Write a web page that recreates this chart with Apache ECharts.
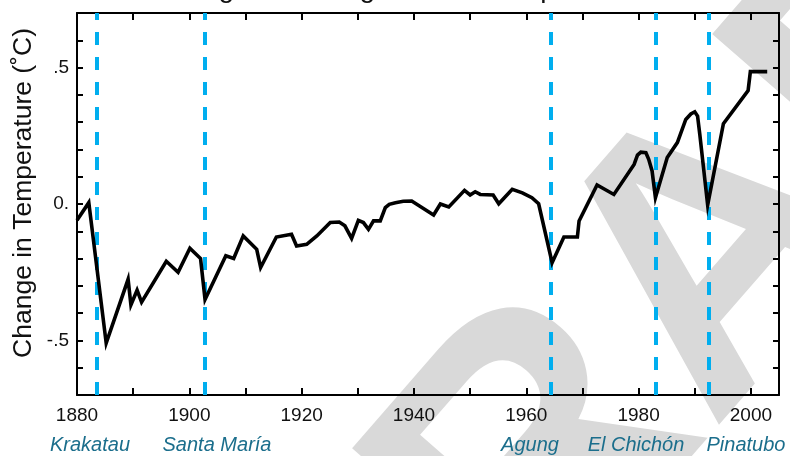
<!DOCTYPE html>
<html>
<head>
<meta charset="utf-8">
<script src="https://cdn.jsdelivr.net/npm/echarts@6/dist/echarts.min.js"></script>
<style>html,body{margin:0;padding:0;background:#fff;}#c{width:790px;height:456px;}</style>
</head>
<body>
<div id="c"></div>
<script>
const years = [1880, 1882.1, 1885.2, 1889.1, 1889.6, 1890.7, 1891.5, 1895.9, 1898, 1900.1, 1902, 1902.8, 1906.5, 1907.9, 1909.6, 1912, 1912.7, 1915.5, 1918.2, 1919.1, 1920.9, 1922.7, 1925.1, 1926.7, 1927.7, 1928.9, 1930.1, 1931, 1931.9, 1932.8, 1934, 1934.9, 1935.6, 1936.7, 1938.1, 1939.6, 1943.5, 1944.7, 1946.2, 1949, 1950, 1950.9, 1951.8, 1954.1, 1955.1, 1957.5, 1959.3, 1961, 1962.2, 1964.6, 1966.7, 1969.1, 1969.4, 1972.6, 1975.6, 1979.2, 1979.8, 1980.4, 1981.3, 1981.8, 1982.4, 1983, 1985.1, 1986.9, 1988.4, 1989.3, 1990, 1990.5, 1990.9, 1992.3, 1995.1, 1999.5, 1999.9, 2002.9];
const temps = [-0.06, 0.005, -0.51, -0.276, -0.37, -0.316, -0.36, -0.21, -0.25, -0.162, -0.2, -0.35, -0.19, -0.2, -0.117, -0.166, -0.233, -0.121, -0.111, -0.154, -0.148, -0.117, -0.068, -0.066, -0.08, -0.126, -0.06, -0.068, -0.093, -0.062, -0.062, -0.013, -0.001, 0.005, 0.01, 0.011, -0.04, 0, -0.011, 0.05, 0.033, 0.045, 0.035, 0.033, 0.001, 0.054, 0.041, 0.023, 0.001, -0.215, -0.121, -0.121, -0.062, 0.07, 0.035, 0.145, 0.179, 0.19, 0.188, 0.164, 0.121, 0.023, 0.17, 0.225, 0.31, 0.33, 0.338, 0.322, 0.255, -0.004, 0.294, 0.416, 0.485, 0.485];
const volcanoNames = ['Krakatau', 'Santa María', 'Agung', 'El Chichón', 'Pinatubo'];
const volcanoYears = [1883.5, 1902.7, 1964.3, 1983, 1992.5];
const xTickLabels = ['1880', '1900', '1920', '1940', '1960', '1980', '2000'];
const yTickLabels = {'-5': '-.5', '0': '0.', '5': '.5'};
const yAxisTitle = 'Change in Temperature (˚C)';
const chartTitle = 'Change in Average Global Temperature';

const FONT = '"Liberation Sans", Arial, sans-serif';
const chart = echarts.init(document.getElementById('c'), null, {renderer: 'canvas'});

const lineData = years.map((y, i) => [y, temps[i]]);
const labelCenters = [90, 217, 530, 636, 746];

const option = {
  animation: false,
  backgroundColor: '#fff',
  grid: {left: 77, right: 11, top: 13, bottom: 61, containLabel: false},
  xAxis: [{
    type: 'value', min: 1880, max: 2005, interval: 10,
    axisLine: {show: true, onZero: false, lineStyle: {color: '#000', width: 2}},
    axisTick: {show: true, inside: true, length: 7, lineStyle: {color: '#000', width: 2}},
    axisLabel: {
      show: true, margin: 11, color: '#111', fontSize: 19, fontFamily: FONT,
      formatter: v => xTickLabels.indexOf(String(Math.round(v))) >= 0 && Math.abs(v - Math.round(v)) < 1e-6 ? String(Math.round(v)) : ''
    },
    splitLine: {show: false}
  }, {
    type: 'value', min: 1880, max: 2005, interval: 10, position: 'top',
    axisLine: {show: true, onZero: false, lineStyle: {color: '#000', width: 2}},
    axisTick: {show: true, inside: true, length: 7, lineStyle: {color: '#000', width: 2}},
    axisLabel: {show: false}, splitLine: {show: false}
  }],
  yAxis: [{
    type: 'value', min: -0.7, max: 0.7, interval: 0.1,
    axisLine: {show: true, onZero: false, lineStyle: {color: '#000', width: 2}},
    axisTick: {show: true, inside: true, length: 6, lineStyle: {color: '#000', width: 2}},
    axisLabel: {
      show: true, margin: 8, color: '#111', fontSize: 19, fontFamily: FONT,
      formatter: v => { const k = String(Math.round(v * 10)); return yTickLabels[k] !== undefined ? yTickLabels[k] : ''; }
    },
    splitLine: {show: false}
  }, {
    type: 'value', min: -0.7, max: 0.7, interval: 0.1, position: 'right',
    axisLine: {show: true, onZero: false, lineStyle: {color: '#000', width: 2}},
    axisTick: {show: true, inside: true, length: 6, lineStyle: {color: '#000', width: 2}},
    axisLabel: {show: false}, splitLine: {show: false}
  }],
  series: [{
    type: 'line', xAxisIndex: 0, yAxisIndex: 0, data: lineData,
    showSymbol: false, symbol: 'none', z: 5,
    lineStyle: {color: '#000', width: 3.6, join: 'miter'},
    markLine: {
      silent: true, symbol: ['none', 'none'], label: {show: false},
      lineStyle: {color: '#00aeef', width: 4, type: [13, 12]},
      data: volcanoYears.map(y => ({xAxis: y}))
    }
  }],
  graphic: [
    {
      type: 'text', x: 417, y: 902, rotation: 49 * Math.PI / 180, z: -100, silent: true,
      style: {text: 'DRAFT', font: 'bold 380px ' + FONT, fill: '#d9d9d9', align: 'left', verticalAlign: 'bottom'}
    },
    {
      type: 'text', x: 398, y: -11, z: 10,
      style: {text: chartTitle, font: '28px ' + FONT, fill: '#111', align: 'center', verticalAlign: 'middle'}
    },
    {
      type: 'text', x: 24, y: 193, rotation: Math.PI / 2, z: 10,
      style: {text: yAxisTitle, font: '26.5px ' + FONT, fill: '#111', align: 'center', verticalAlign: 'middle'}
    }
  ].concat(volcanoNames.map((n, i) => ({
    type: 'text', x: labelCenters[i], y: 445, z: 10,
    style: {text: n, font: 'italic 20px ' + FONT, fill: '#1b6e8c', align: 'center', verticalAlign: 'middle'}
  })))
};
chart.setOption(option);
</script>
</body>
</html>
